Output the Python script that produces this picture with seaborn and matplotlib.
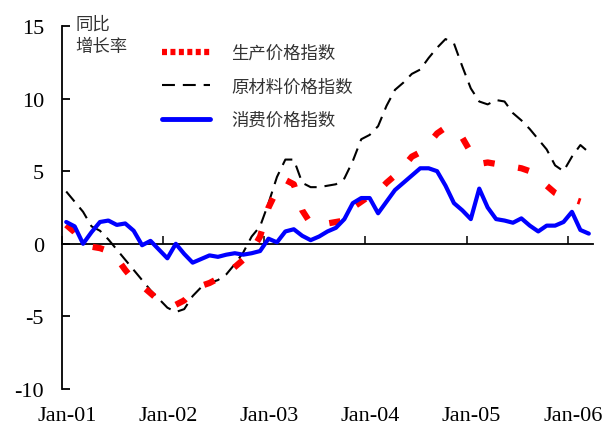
import matplotlib
matplotlib.use("Agg")
import matplotlib.pyplot as plt
from matplotlib.lines import Line2D
import seaborn as sns
import numpy as np
import pandas as pd

# ---------------- data (monthly, Jan-01 .. Mar-06) ----------------
tick_labels = ["Jan-01", "Jan-02", "Jan-03", "Jan-04", "Jan-05", "Jan-06"]
series_names = ["生产价格指数", "原材料价格指数", "消费价格指数"]

ppi = [1.3, 0.8, 0.1, -0.2, -0.3, -0.5, -1.0, -1.8, -2.5, -2.9, -3.4, -3.9,
       -4.1, -4.2, -3.9, -3.3, -2.9, -2.7, -2.4, -2.1, -1.6, -1.1, -0.5, 0.5,
       2.5, 3.7, 4.4, 4.1, 2.3, 1.4, 1.3, 1.4, 1.5, 1.6, 2.5, 2.9,
       3.3, 3.6, 4.2, 4.7, 5.3, 6.0, 6.3, 6.9, 7.6, 8.0, 7.8, 7.3,
       6.3, 5.5, 5.6, 5.5, 5.4, 5.3, 5.2, 5.0, 4.6, 4.0, 3.5, 3.2,
       3.1, 2.9]

raw = [3.6, 2.9, 2.2, 1.2, 0.9, 0.3, -0.4, -1.1, -1.8, -2.5, -3.2, -3.8,
       -4.4, -4.7, -4.5, -3.6, -3.0, -2.7, -2.5, -2.1, -1.4, -0.6, 0.5, 1.2,
       2.8, 4.6, 5.8, 5.8, 4.2, 3.9, 3.9, 4.0, 4.1, 4.5, 5.7, 7.2,
       7.5, 8.1, 9.5, 10.6, 11.1, 11.7, 12.0, 12.8, 13.5, 14.1, 13.8, 12.2,
       10.7, 9.8, 9.6, 9.9, 9.8, 9.0, 8.5, 7.9, 7.2, 6.5, 5.4, 5.0,
       6.0, 6.8, 6.3]

cpi = [1.5, 1.2, 0.0, 0.8, 1.5, 1.6, 1.3, 1.4, 0.9, -0.1, 0.2, -0.4,
       -1.0, 0.0, -0.7, -1.3, -1.05, -0.8, -0.9, -0.75, -0.65, -0.75, -0.65, -0.5,
       0.35, 0.1, 0.85, 1.0, 0.55, 0.25, 0.5, 0.85, 1.1, 1.7, 2.8, 3.15,
       3.15, 2.1, 2.9, 3.7, 4.2, 4.7, 5.2, 5.2, 5.0, 4.0, 2.8, 2.3,
       1.7, 3.8, 2.5, 1.7, 1.6, 1.45, 1.75, 1.25, 0.85, 1.25, 1.25, 1.5,
       2.2, 0.95, 0.7]

df_ppi = pd.DataFrame({"m": np.arange(len(ppi)) + 0.5, "v": ppi})
df_raw = pd.DataFrame({"m": np.arange(len(raw)) + 0.5, "v": raw})
df_cpi = pd.DataFrame({"m": np.arange(len(cpi)) + 0.5, "v": cpi})

# ---------------- style ----------------
sns.set_style("white")
plt.rcParams["font.family"] = ["Liberation Serif", "Noto Sans CJK SC", "DejaVu Sans"]

fig = plt.figure(figsize=(6.05, 4.27), dpi=100)
ax = fig.add_axes([0.1025, 0.0867, 0.8777, 0.8501])

red_ls = (0, (1.8, 3.8))
blk_ls = (0, (6.2, 3.8))

sns.lineplot(data=df_raw, x="m", y="v", ax=ax, color="black", lw=1.5,
             linestyle=blk_ls, legend=False, sort=False)
sns.lineplot(data=df_ppi, x="m", y="v", ax=ax, color="#ff0000", lw=4.5,
             linestyle=red_ls, legend=False, sort=False)
sns.lineplot(data=df_cpi, x="m", y="v", ax=ax, color="#0000ff", lw=3.0,
             legend=False, sort=False)

ax.set_xlim(0, 63)
ax.set_ylim(-10, 15)
ax.set_xlabel("")
ax.set_ylabel("")

for s in ["top", "right", "bottom"]:
    ax.spines[s].set_visible(False)
ax.spines["left"].set_linewidth(1.3)
ax.spines["left"].set_color("black")

ax.set_yticks([-10, -5, 0, 5, 10, 15])
ax.set_yticklabels(["-10", "-5", "0", "5", "10", "15"])
ax.tick_params(axis="y", direction="in", length=6, width=1.3, pad=13,
               labelsize=16, left=True, colors="black")

# bottom labels (no tick marks)
ax.set_xticks([0.6 + 12 * k for k in range(len(tick_labels))])
ax.set_xticklabels(tick_labels)
ax.tick_params(axis="x", length=0, pad=12, labelsize=16, colors="black")

# zero line with tick marks
sec = ax.secondary_xaxis(0.4)
sec.set_xticks([12 * k for k in range(len(tick_labels))])
sec.tick_params(direction="in", length=6, width=1.3, labelbottom=False)
sec.spines["bottom"].set_linewidth(1.3)
sec.spines["bottom"].set_color("black")

cjk = ["Noto Sans CJK SC", "DejaVu Sans"]
ax.text(0.0245, 1.03, "同比\n增长率", transform=ax.transAxes, ha="left", va="top",
        fontsize=12.5, color="#333333", family=cjk, linespacing=1.25)

handles = [
    Line2D([], [], color="#ff0000", lw=4.5, linestyle=(0, (0.8, 0.55))),
    Line2D([], [], color="black", lw=1.5, linestyle=(0, (6.2, 3.8))),
    Line2D([], [], color="#0000ff", lw=3.5),
]
leg = ax.legend(handles, series_names, loc="upper left",
                bbox_to_anchor=(0.188, 0.951), frameon=False,
                borderpad=0, borderaxespad=0, handlelength=2.8,
                handletextpad=1.2, labelspacing=0.9,
                prop={"family": cjk, "size": 12.5})
for t in leg.get_texts():
    t.set_color("#333333")

fig.savefig("out.png", dpi=100)
